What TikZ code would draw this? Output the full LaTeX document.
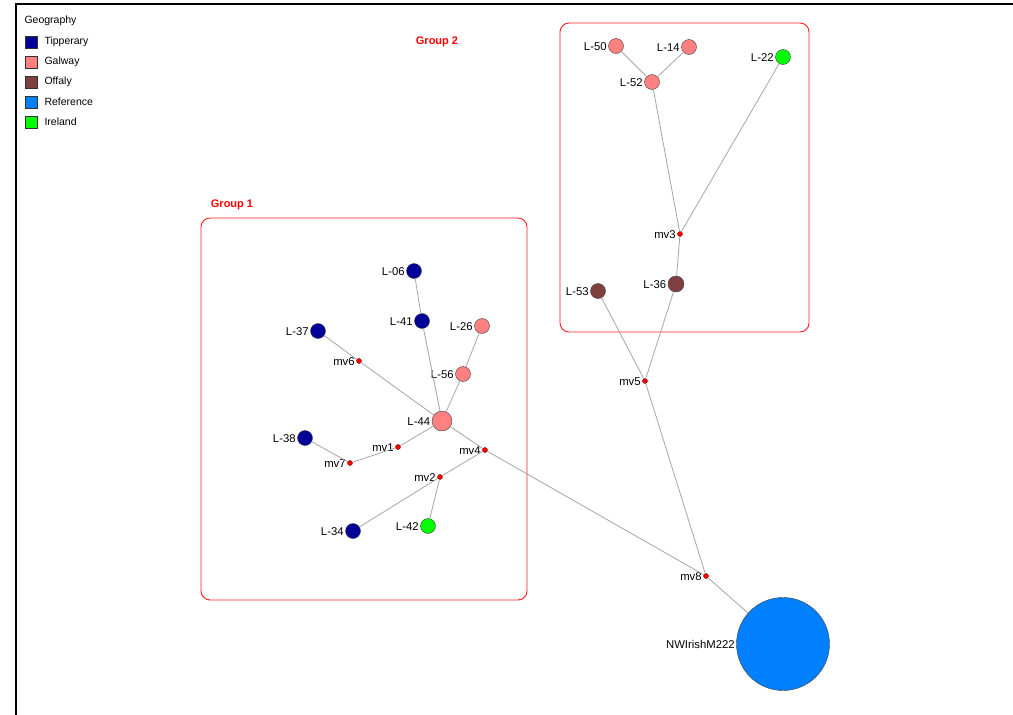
\documentclass[tikz,border=0pt]{standalone}
\usepackage{fontspec}
\setmainfont{Liberation Sans}
\definecolor{tipp}{HTML}{000099}
\definecolor{galw}{HTML}{FF8080}
\definecolor{offa}{HTML}{804040}
\definecolor{refc}{HTML}{0080FF}
\definecolor{irel}{HTML}{00FF00}
\definecolor{grpred}{HTML}{FF2020}
\begin{document}
\begin{tikzpicture}[x=1pt,y=-1pt,
  every node/.style={font=\fontsize{11.3}{13}\selectfont},
  hap/.style={circle,draw=black!75,fill=#1,minimum size=15pt,inner sep=0pt},
  med/.style={circle,draw=black!50!red,fill=red,minimum size=5pt,inner sep=0pt},
  lbl/.style={label={[inner sep=1pt,label distance=0.5pt,yshift=-0.5pt]left:#1}},
  edge/.style={draw=black!35,line width=0.8pt},
  grp/.style={draw=grpred,rounded corners=9pt,line width=0.9pt},
  grplbl/.style={text=red,font=\bfseries\fontsize{11}{13}\selectfont},
  legbox/.style={draw=black!80,fill=#1,minimum size=12.5pt,inner sep=0pt},
  legtxt/.style={anchor=west,font=\fontsize{10.5}{12}\selectfont}]
\useasboundingbox (0,0) rectangle (1013,715);
\fill[white] (0,0) rectangle (1013,715);
\draw[line width=2pt] (16,715) -- (16,4) -- (1013,4);
% legend
\node[legtxt] (legtitle) at (21,21) {Geography};
\foreach \c/\t [count=\i] in {tipp/Tipperary,galw/Galway,offa/Offaly,refc/Reference,irel/Ireland}{
  \node[legbox=\c] (leg\i) at (31,22+20*\i) {};
  \node[legtxt] (legt\i) at (41,22+20*\i) {\t};
}
% groups
\draw[grp] (201,218) rectangle (527,600);
\node[grplbl] (g1) at (232,205) {Group 1};
\draw[grp] (560,23) rectangle (809,332);
\node[grplbl] (g2) at (437,42) {Group 2};
% haplotypes
\node[hap=galw,lbl=L-50] (L50) at (616,46) {};
\node[hap=galw,lbl=L-14] (L14) at (689,47) {};
\node[hap=galw,lbl=L-52] (L52) at (652,82) {};
\node[hap=irel,lbl=L-22] (L22) at (783,57) {};
\node[hap=offa,lbl=L-36,minimum size=16pt] (L36) at (676,284) {};
\node[hap=offa,lbl=L-53] (L53) at (598,291) {};
\node[hap=refc,lbl=NWIrishM222,minimum size=93pt] (NW) at (783,644) {};
\node[hap=tipp,lbl=L-06] (L06) at (414,271) {};
\node[hap=tipp,lbl=L-41] (L41) at (422,321) {};
\node[hap=galw,lbl=L-26] (L26) at (482,326) {};
\node[hap=galw,lbl=L-56] (L56) at (463,374) {};
\node[hap=tipp,lbl=L-37] (L37) at (318,331) {};
\node[hap=galw,lbl=L-44,minimum size=20pt] (L44) at (442,421) {};
\node[hap=tipp,lbl=L-38] (L38) at (305,438) {};
\node[hap=tipp,lbl=L-34] (L34) at (353,531) {};
\node[hap=irel,lbl=L-42] (L42) at (428,526) {};
% median vectors
\node[med,lbl=mv1] (mv1) at (398,447) {};
\node[med,lbl=mv2] (mv2) at (440,477) {};
\node[med,lbl=mv3] (mv3) at (680,234) {};
\node[med,lbl=mv4] (mv4) at (485,450) {};
\node[med,lbl=mv5] (mv5) at (645,381) {};
\node[med,lbl=mv6] (mv6) at (359,361) {};
\node[med,lbl=mv7] (mv7) at (350,463) {};
\node[med,lbl=mv8] (mv8) at (706,576) {};
% links
\foreach \a/\b in {L50/L52,L14/L52,L52/mv3,L22/mv3,mv3/L36,L36/mv5,L53/mv5,
  mv5/mv8,mv8/NW,L44/mv4,mv4/mv8,mv4/mv2,mv2/L34,mv2/L42,L44/mv1,mv1/mv7,
  mv7/L38,L44/mv6,mv6/L37,L44/L41,L41/L06,L44/L56,L56/L26}
  \draw[edge] (\a) -- (\b);
\end{tikzpicture}
\end{document}
